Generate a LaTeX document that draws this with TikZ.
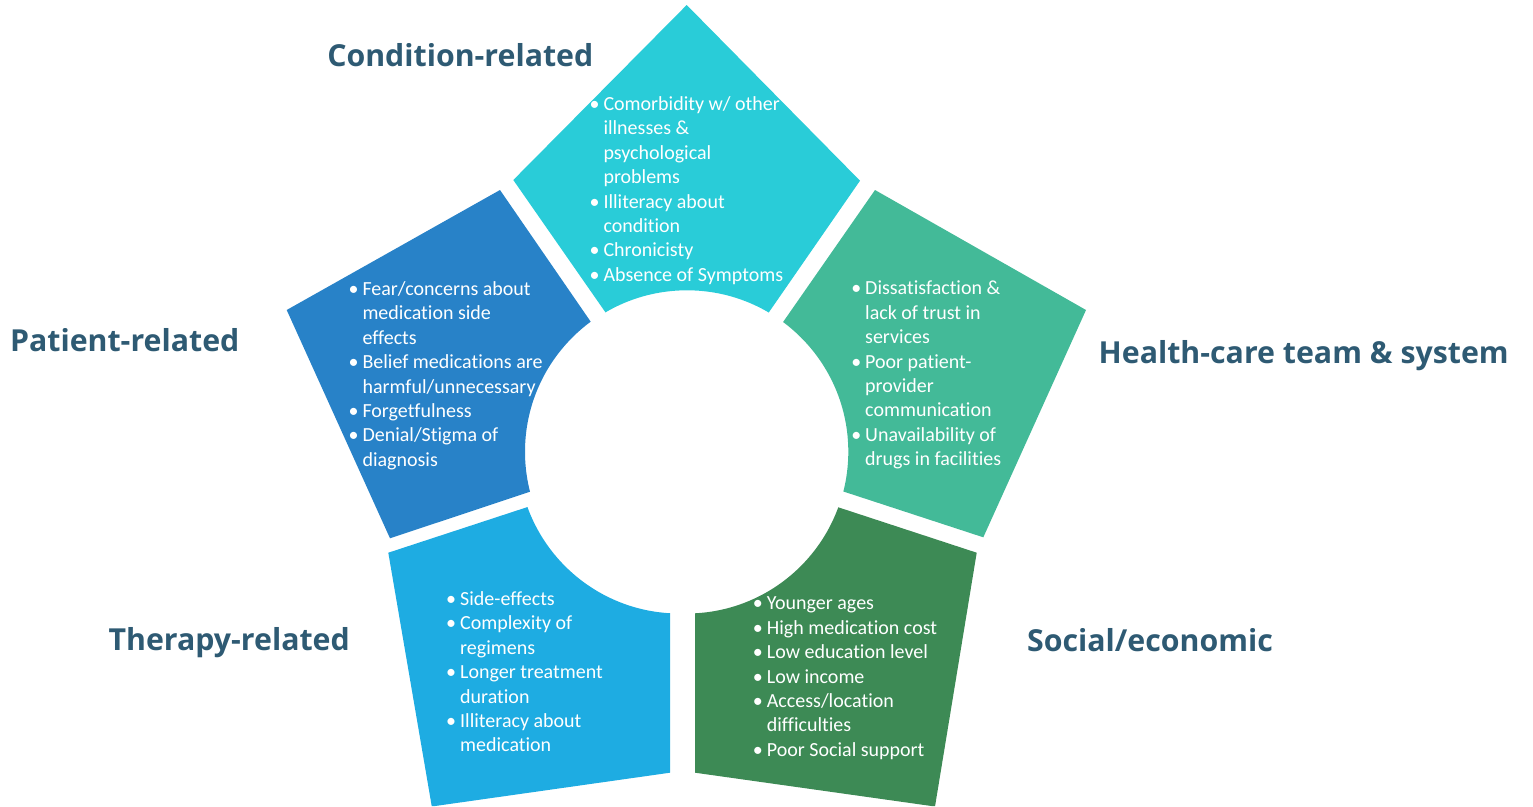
\documentclass[tikz,border=0pt]{standalone}
\usepackage{fontspec}
\setmainfont{Carlito}[Ligatures=NoCommon]
\newfontfamily\headfont{Open Sans}

\definecolor{condcol}{HTML}{29CCD8}
\definecolor{patcol}{HTML}{2882C8}
\definecolor{hcol}{HTML}{43BA98}
\definecolor{thercol}{HTML}{1EACE2}
\definecolor{soccol}{HTML}{3D8A55}
\definecolor{headcol}{HTML}{2E5A73}

% one segment of the pentagon: outline clipped, central disc cut out
\newcommand\segment[3]{%
  \begin{scope}
    \clip #2 -- cycle;
    \fill[#1, even odd rule] (0,0) rectangle (1533,806) #3 circle[radius=161.5];
  \end{scope}}

% bullet hanging left of the text column
\newcommand\bl{\leavevmode\llap{•\hspace{4pt}}}

\begin{document}
\begin{tikzpicture}[x=1pt, y=-1pt,
  heading/.style={font=\headfont\bfseries\fontsize{30.3}{36}\selectfont, text=headcol,
    inner sep=0, anchor=base},
  items/.style={inner sep=0, anchor=base west, text=white,
    font=\fontsize{20}{24.4}\selectfont}]
\useasboundingbox (0,0) rectangle (1533,806);

% segments
\segment{condcol}{(686.7,5) -- (860,180.7) -- (769.3,311.7) -- (687,451) -- (605,311.7) -- (513.3,180)}{(687,451.8)}
\segment{patcol}{(500,190) -- (590.7,321.7) -- (686.5,451.7) -- (530,491.7) -- (390,538.3) -- (286.7,310)}{(686.5,451.7)}
\segment{hcol}{(875,190) -- (1086,310) -- (983.3,537.3) -- (844,491.7) -- (686.8,451.7) -- (783.3,321.7)}{(686.8,451.7)}
\segment{thercol}{(388.3,552.7) -- (526.7,507.3) -- (679,452) -- (670,613.3) -- (670,772.7) -- (431.7,806.5) -- (431.7,806)}{(679.3,452)}
\segment{soccol}{(695,613.3) -- (686.5,452) -- (838.3,507.3) -- (976.7,552.7) -- (935,806.5) -- (695,772.7)}{(686.5,452)}

% headings
\node[heading] (hcond) at (460.3,66.7) {Condition-related};
\node[heading] (hpat) at (124.7,351.7) {Patient-related};
\node[heading] (hhealth) at (1303.7,363.3) {Health-care team \& system};
\node[heading] (hther) at (229.2,650) {Therapy-related};
\node[heading] (hsoc) at (1150,651) {Social/economic};

% factor lists
\node[items] (lcond) at (603.3,110.5) {\parbox[t]{260pt}{\raggedright
  \bl Comorbidity w/ other\\ illnesses \&\\ psychological\\ problems\\
  \bl Illiteracy about\\ condition\\ \bl Chronicisty\\ \bl Absence of Symptoms}};
\node[items] (lpat) at (362.3,295.5) {\parbox[t]{260pt}{\raggedright
  \bl Fear/concerns about\\ medication side\\ effects\\
  \bl Belief medications are\\ harmful/unnecessary\\ \bl Forgetfulness\\
  \bl Denial/Stigma of\\ diagnosis}};
\node[items] (lhealth) at (865,294.8) {\parbox[t]{260pt}{\raggedright
  \bl Dissatisfaction \&\\ lack of trust in\\ services\\
  \bl Poor patient-\\ provider\\ communication\\
  \bl Unavailability of\\ drugs in facilities}};
\node[items] (lther) at (460,605.5) {\parbox[t]{260pt}{\raggedright
  \bl Side-effects\\ \bl Complexity of\\ regimens\\
  \bl Longer treatment\\ duration\\ \bl Illiteracy about\\ medication}};
\node[items] (lsoc) at (766.7,609.8) {\parbox[t]{260pt}{\raggedright
  \bl Younger ages\\ \bl High medication cost\\ \bl Low education level\\
  \bl Low income\\ \bl Access/location\\ difficulties\\ \bl Poor Social support}};
\end{tikzpicture}
\end{document}
